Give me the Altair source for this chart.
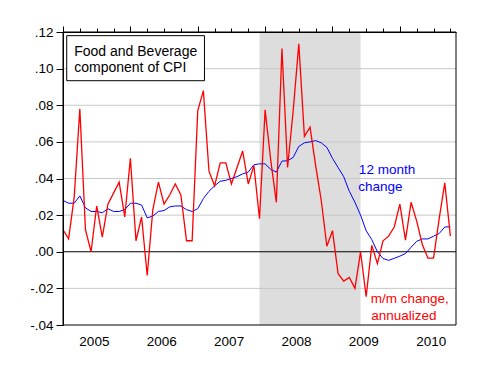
import altair as alt
import pandas as pd

# Monthly data, month index 0 = 2005M01
start_year = 2005
mm_annualized = [
    0.012, 0.007, 0.030, 0.078, 0.012, 0.000, 0.025, 0.008, 0.026, 0.032,
    0.038, 0.019, 0.051, 0.006, 0.019, -0.013, 0.023, 0.038, 0.026, 0.031,
    0.037, 0.031, 0.006, 0.006, 0.077, 0.088, 0.044, 0.036, 0.0485, 0.0485,
    0.037, 0.046, 0.055, 0.037, 0.047, 0.018, 0.0775, 0.050, 0.027, 0.111,
    0.046, 0.077, 0.1135, 0.063, 0.068, 0.047, 0.028, 0.003, 0.0115, -0.012,
    -0.016, -0.014, -0.020, 0.000, -0.0245, 0.0035, -0.0065, 0.006, 0.0085, 0.0135,
    0.026, 0.0063, 0.027, 0.0167, 0.004, -0.0035, -0.0035, 0.018, 0.0376, 0.0085,
]
yoy_change = [
    0.028, 0.0265, 0.0265, 0.0305, 0.024, 0.022, 0.022, 0.0213, 0.0235, 0.022,
    0.022, 0.023, 0.0265, 0.0265, 0.0255, 0.0185, 0.0195, 0.022, 0.0225, 0.0245,
    0.025, 0.025, 0.023, 0.022, 0.0235, 0.029, 0.033, 0.036, 0.0385, 0.039,
    0.040, 0.041, 0.0425, 0.0435, 0.0475, 0.048, 0.048, 0.045, 0.0435, 0.0495,
    0.0497, 0.0515, 0.0575, 0.0595, 0.060, 0.0607, 0.0595, 0.057, 0.051, 0.046,
    0.041, 0.033, 0.027, 0.020, 0.0115, 0.0066, 0.0, -0.0037, -0.0047, -0.0036,
    -0.0024, -0.001, 0.0025, 0.0057, 0.007, 0.007, 0.0085, 0.010, 0.0135, 0.0136,
]
month_index = list(range(len(mm_annualized)))

recession_start = [35]   # 2007M12
recession_end = [53]     # 2009M06

y_ticks = [-0.04, -0.02, 0.0, 0.02, 0.04, 0.06, 0.08, 0.10, 0.12]
grid_values = [-0.02, 0.02, 0.04, 0.06, 0.08, 0.10]
quarter_ticks = list(range(0, 70, 3))
year_ticks = list(range(0, 71, 12))
year_label_pos = [m + 5.5 for m in range(0, 61, 12)]

box_text = ["Food and Beverage", "component of CPI"]
blue_text = ["12 month", "change"]
red_text = ["m/m change,", "annualized"]

W, H = 393, 293
FONT = "Liberation Sans"

xs = alt.Scale(domain=[0, 70], nice=False, zero=False)
ys = alt.Scale(domain=[-0.04, 0.12], nice=False, zero=False)

df = pd.DataFrame({"m": month_index, "mm": mm_annualized, "yoy": yoy_change})

quarter_axis = alt.Axis(values=quarter_ticks, title=None, labels=False, grid=False,
                        domain=True, domainColor="black", ticks=True, tickColor="black",
                        tickSize=4, zindex=1)
year_axis = alt.Axis(values=year_ticks, title=None, labels=False, grid=False,
                     domain=False, ticks=True, tickColor="black", tickSize=6, zindex=1)
label_axis = alt.Axis(values=year_label_pos, title=None, grid=False, domain=False,
                      ticks=False, tickSize=0, labelPadding=9, labelFlush=False,
                      labelFont=FONT, labelFontSize=13.5, labelColor="black",
                      labelExpr=f"'' + ({start_year} + floor(datum.value / 12))", zindex=1)
y_axis = alt.Axis(values=y_ticks, title=None, grid=False, domain=True, domainColor="black",
                  ticks=True, tickColor="black", tickSize=7, labelPadding=3,
                  labelFont=FONT, labelFontSize=13.5, labelColor="black",
                  labelExpr="replace(replace(format(datum.value, '.2f'), '0.', '.'), '\u2212', '-')",
                  zindex=1)

rec = alt.Chart(pd.DataFrame({"s": recession_start, "e": recession_end})).mark_rect(
    color="#DDDDDD").encode(
    x=alt.X("s:Q", scale=xs, axis=label_axis), x2="e:Q",
    y=alt.value(0), y2=alt.value(H))

grid = alt.Chart(pd.DataFrame({"g": grid_values})).mark_rule(
    color="#C8C8C8", strokeWidth=1).encode(y=alt.Y("g:Q", scale=ys, axis=None))

zero = alt.Chart(pd.DataFrame({"z": [0.0]})).mark_rule(
    color="black", strokeWidth=1).encode(y=alt.Y("z:Q", scale=ys, axis=None))

blue = alt.Chart(df).mark_line(color="#0000FF", strokeWidth=1).encode(
    x=alt.X("m:Q", scale=xs, axis=quarter_axis),
    y=alt.Y("yoy:Q", scale=ys, axis=y_axis))

red = alt.Chart(df).mark_line(color="#FF0000", strokeWidth=1.3).encode(
    x=alt.X("m:Q", scale=xs, axis=year_axis),
    y=alt.Y("mm:Q", scale=ys, axis=None))

box = alt.Chart(pd.DataFrame({"x": [0.66], "x2": [25.2], "y": [0.118], "y2": [0.0934]})).mark_rect(
    fill="white", stroke="black", strokeWidth=1).encode(
    x=alt.X("x:Q", scale=xs, axis=None), x2="x2:Q",
    y=alt.Y("y:Q", scale=ys, axis=None), y2="y2:Q")

def text_layer(lines, xs_pos, ys_pos, color, size):
    d = pd.DataFrame({"t": lines, "x": xs_pos, "y": ys_pos})
    return alt.Chart(d).mark_text(align="left", baseline="alphabetic", font=FONT,
                                  fontSize=size, color=color).encode(
        x=alt.X("x:Q", scale=xs, axis=None),
        y=alt.Y("y:Q", scale=ys, axis=None),
        text="t:N")

t_box = text_layer(box_text, [2.0, 2.0], [0.1067, 0.098], "black", 14)
t_blue = text_layer(blue_text, [52.7, 52.6], [0.0422, 0.0334], "#0000FF", 13.5)
t_red = text_layer(red_text, [54.8, 54.9], [-0.0282, -0.0371], "#FF0000", 13.5)

frame = alt.Chart(pd.DataFrame({"a": [0]})).mark_rect(
    filled=False, stroke="black", strokeWidth=1).encode(
    x=alt.value(0), x2=alt.value(W), y=alt.value(0), y2=alt.value(H))

chart = alt.layer(rec, grid, zero, blue, red, box, t_box, t_blue, t_red, frame).resolve_axis(
    x="independent", y="independent"
).properties(
    width=W, height=H,
    autosize=alt.AutoSizeParams(type="none"),
    padding={"left": 55, "top": 24, "right": 35, "bottom": 45},
).configure_view(stroke=None)

chart.save("out.html", embed_options={"renderer": "svg", "actions": False})
